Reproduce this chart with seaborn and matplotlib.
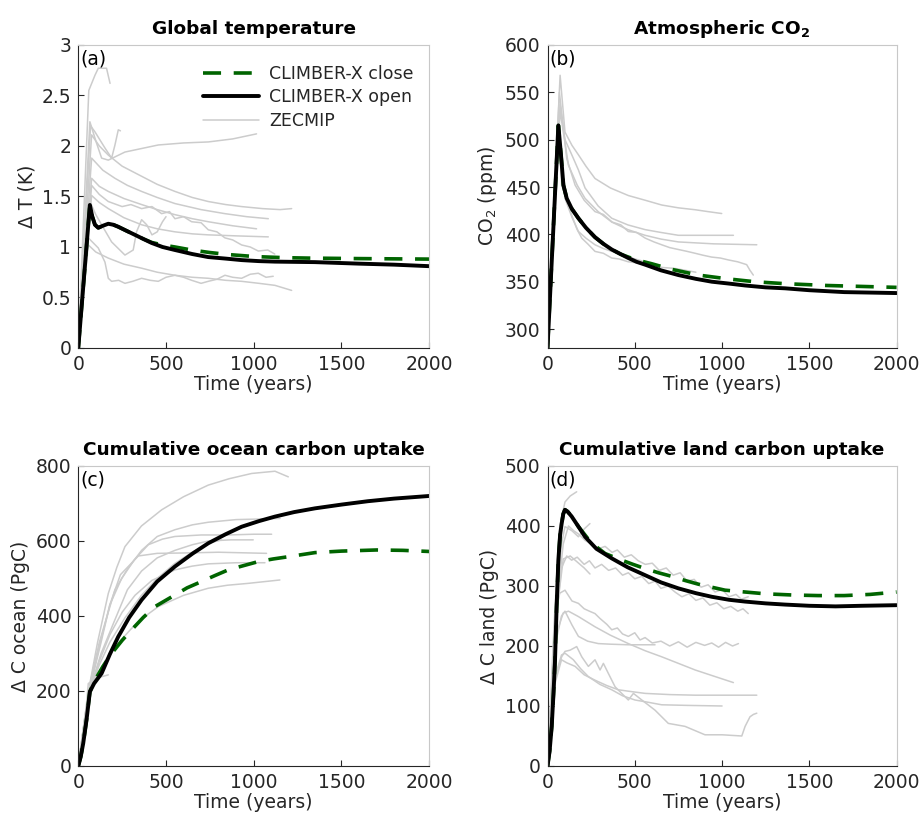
import matplotlib
matplotlib.use("Agg")
import matplotlib.pyplot as plt
import seaborn as sns

sns.set_style("white")
plt.rcParams['font.family'] = ['DejaVu Sans']
plt.rcParams['mathtext.default'] = 'regular'

# ---------------- Panel (a): global temperature ----------------
open_T_t = [0, 66, 80, 95, 114, 140, 171, 200, 228, 275, 323, 370, 418, 480, 551, 650, 741, 840, 931, 1030, 1121, 1349, 1600, 1800, 2000]
open_T = [0, 1.416, 1.30, 1.22, 1.19, 1.21, 1.23, 1.22, 1.20, 1.16, 1.12, 1.08, 1.04, 1.00, 0.97, 0.93, 0.90, 0.885, 0.87, 0.86, 0.855, 0.85, 0.835, 0.825, 0.81]
close_T_t = [0, 66, 80, 95, 114, 140, 171, 200, 228, 275, 323, 370, 418, 480, 551, 646, 750, 855, 1007, 1178, 1311, 1600, 2000]
close_T = [0, 1.416, 1.30, 1.22, 1.19, 1.21, 1.23, 1.22, 1.20, 1.16, 1.12, 1.08, 1.045, 1.02, 1.00, 0.97, 0.945, 0.925, 0.905, 0.894, 0.89, 0.885, 0.88]

zec_T_t = [
    [0, 60, 95, 114, 161, 181],
    [0, 66, 100, 133, 171, 266, 456, 600, 741, 880, 1016],
    [0, 70, 95, 152, 190, 209, 228, 240],
    [0, 76, 120, 171, 250, 361, 450, 551, 650, 741, 840, 931, 1050, 1150, 1216],
    [0, 76, 140, 209, 280, 361, 450, 551, 700, 836, 960, 1083],
    [0, 76, 120, 171, 260, 361, 450, 551, 650, 741, 880, 1016],
    [0, 76, 120, 171, 250, 300, 361, 420, 475, 520, 551, 600, 646, 700, 741, 790, 836, 880, 931, 980, 1026, 1080, 1120],
    [0, 76, 120, 171, 260, 361, 450, 551, 650, 741, 900, 1083],
    [0, 66, 100, 133, 190, 266, 313, 332, 361, 390, 420, 450, 480, 500],
    [0, 57, 80, 114, 152, 171, 190, 230, 266, 310, 361, 410, 456, 500, 551, 600, 646, 700, 741, 790, 836, 880, 931, 980, 1026, 1070, 1111],
    [0, 57, 100, 171, 260, 361, 450, 551, 650, 741, 840, 931, 1030, 1121, 1216],
]
zec_T = [
    [0, 2.55, 2.70, 2.77, 2.77, 2.62],
    [0, 2.24, 2.05, 1.88, 1.86, 1.94, 2.01, 2.03, 2.04, 2.07, 2.12],
    [0, 2.20, 2.14, 1.98, 1.88, 2.01, 2.16, 2.15],
    [0, 2.11, 2.00, 1.91, 1.80, 1.70, 1.62, 1.55, 1.49, 1.45, 1.42, 1.40, 1.38, 1.37, 1.38],
    [0, 1.88, 1.76, 1.68, 1.61, 1.55, 1.49, 1.43, 1.37, 1.33, 1.30, 1.28],
    [0, 1.68, 1.60, 1.55, 1.48, 1.42, 1.37, 1.32, 1.28, 1.25, 1.21, 1.18],
    [0, 1.61, 1.52, 1.45, 1.40, 1.42, 1.38, 1.40, 1.33, 1.35, 1.28, 1.30, 1.25, 1.24, 1.17, 1.15, 1.09, 1.07, 1.02, 1.00, 0.96, 0.97, 0.93],
    [0, 1.51, 1.44, 1.38, 1.29, 1.22, 1.18, 1.15, 1.13, 1.12, 1.11, 1.10],
    [0, 1.45, 1.32, 1.22, 1.05, 0.92, 0.97, 1.15, 1.27, 1.22, 1.12, 1.15, 1.25, 1.30],
    [0, 1.09, 1.05, 0.99, 0.85, 0.69, 0.66, 0.67, 0.64, 0.66, 0.69, 0.67, 0.66, 0.70, 0.72, 0.70, 0.67, 0.64, 0.66, 0.68, 0.72, 0.70, 0.69, 0.73, 0.74, 0.70, 0.71],
    [0, 1.02, 0.95, 0.89, 0.83, 0.79, 0.75, 0.72, 0.70, 0.69, 0.67, 0.66, 0.64, 0.62, 0.57],
]

# ---------------- Panel (b): atmospheric CO2 ----------------
open_C_t = [0, 62, 77, 91, 110, 139, 177, 220, 272, 320, 368, 420, 463, 510, 559, 650, 750, 850, 941, 1040, 1132, 1250, 1361, 1500, 1700, 2000]
open_C = [280, 515, 484, 452, 438, 427, 417, 407, 397, 390, 384, 379, 375, 371, 368, 362, 357, 353, 350, 348, 346, 344, 343, 341, 339, 338]
close_C_t = [0, 62, 77, 91, 110, 139, 177, 220, 272, 320, 368, 420, 463, 510, 596, 712, 864, 1032, 1185, 1351, 1600, 1800, 2000]
close_C = [280, 515, 484, 452, 438, 427, 417, 407, 397, 390, 384, 379, 376, 373, 369, 363, 357, 353, 350, 348, 346, 345, 344]

zec_C_t = [
    [0, 72, 100, 140, 177, 220, 272, 360, 463, 560, 654, 750, 846, 920, 998],
    [0, 72, 100, 139, 177, 215, 290, 368, 460, 559, 650, 750, 900, 1065],
    [0, 72, 120, 170, 215, 290, 368, 460, 559, 650, 750, 950, 1199],
    [0, 68, 110, 158, 210, 272, 320, 370, 420, 463, 510, 560, 610, 654, 700, 750, 800, 846, 890, 940, 990, 1036, 1090, 1141, 1160, 1179],
    [0, 64, 81, 110, 139, 170, 196, 230, 272, 320, 368, 410, 463, 510, 559, 610, 673],
    [0, 66, 100, 140, 177, 220, 272, 320, 368, 420, 482, 540, 596, 660, 730, 790, 850],
]
zec_C = [
    [285, 568, 508, 494, 484, 472, 459, 449, 441, 436, 431, 428, 426, 424, 422],
    [285, 537, 500, 484, 468, 449, 430, 417, 410, 405, 402, 399, 399, 399],
    [285, 530, 473, 452, 438, 424, 413, 405, 399, 395, 392, 390, 389],
    [285, 550, 480, 452, 436, 424, 421, 413, 410, 403, 402, 396, 392, 389, 386, 384, 382, 380, 378, 376, 375, 373, 371, 368, 362, 357],
    [285, 520, 452, 436, 420, 405, 396, 390, 382, 380, 375, 374, 371, 370, 368, 366, 361],
    [285, 500, 438, 418, 403, 396, 389, 385, 382, 380, 375, 372, 366, 365, 364, 362, 360],
]

# ---------------- Panel (c): ocean carbon uptake ----------------
open_O_t = [0, 14, 28, 47, 66, 90, 133, 180, 228, 290, 361, 450, 551, 650, 741, 840, 931, 1030, 1121, 1230, 1349, 1500, 1650, 1800, 2000]
open_O = [0, 25, 60, 123, 198, 220, 247, 298, 345, 396, 443, 492, 532, 566, 594, 618, 638, 653, 665, 677, 687, 697, 706, 713, 720]
close_O_t = [0, 14, 28, 47, 66, 95, 140, 190, 250, 304, 370, 437, 551, 620, 703, 780, 855, 940, 1026, 1110, 1197, 1349, 1500, 1700, 1850, 2000]
close_O = [0, 25, 60, 123, 198, 229, 265, 300, 335, 363, 396, 425, 456, 475, 492, 508, 523, 534, 545, 552, 558, 569, 573, 576, 575, 572]

zec_O_t = [
    [0, 40, 70, 110, 171, 220, 266, 360, 475, 600, 741, 860, 988, 1121, 1197],
    [0, 40, 70, 120, 209, 280, 361, 450, 551, 650, 741, 900, 1150],
    [0, 40, 70, 130, 180, 247, 320, 399, 480, 551, 700, 850, 1000, 1102],
    [0, 40, 70, 130, 200, 280, 361, 450, 551, 650, 741, 870, 997],
    [0, 40, 70, 120, 180, 240, 342, 450, 600, 800, 1073],
    [0, 40, 70, 120, 180, 250, 323, 420, 551, 650, 741, 900, 1064],
    [0, 40, 70, 120, 180, 266, 360, 450, 550, 650, 750, 817],
    [0, 40, 70, 110, 160, 209, 300, 360, 456, 600, 741, 850, 969, 1149],
    [0, 40, 57, 110, 171],
]
zec_O = [
    [0, 140, 230, 330, 460, 530, 585, 640, 683, 718, 749, 766, 780, 786, 771],
    [0, 140, 225, 330, 470, 525, 575, 612, 630, 643, 650, 657, 660],
    [0, 135, 215, 330, 430, 500, 550, 590, 605, 612, 616, 616, 618, 618],
    [0, 135, 210, 300, 380, 470, 520, 555, 575, 590, 600, 603, 603],
    [0, 135, 215, 320, 430, 510, 560, 567, 568, 570, 567],
    [0, 130, 205, 280, 350, 410, 455, 495, 523, 533, 539, 542, 542],
    [0, 130, 205, 270, 330, 395, 455, 500, 540, 570, 595, 603],
    [0, 125, 195, 245, 285, 318, 365, 392, 425, 455, 474, 482, 487, 496],
    [0, 130, 220, 235, 243],
]

# ---------------- Panel (d): land carbon uptake ----------------
open_L_t = [0, 12, 24, 34, 43, 52, 62, 72, 81, 90, 100, 115, 138, 170, 215, 280, 368, 460, 559, 650, 750, 850, 941, 1040, 1132, 1250, 1361, 1500, 1650, 1800, 2000]
open_L = [0, 25, 66, 120, 177, 265, 343, 385, 404, 420, 427, 424, 416, 402, 382, 362, 346, 331, 318, 306, 296, 288, 282, 277, 274, 271, 269, 267, 266, 267, 268]
close_L_t = [0, 12, 24, 34, 43, 52, 62, 72, 81, 90, 100, 115, 138, 177, 250, 330, 425, 490, 559, 636, 712, 790, 864, 940, 1017, 1130, 1246, 1400, 1550, 1700, 1850, 2000]
close_L = [0, 25, 66, 120, 177, 265, 343, 385, 404, 420, 427, 424, 416, 399, 372, 354, 343, 336, 329, 322, 316, 309, 303, 298, 293, 290, 287, 285, 284, 284, 286, 290]

zec_L_t = [
    [0, 40, 70, 100, 130, 167],
    [0, 45, 80, 100, 140, 177, 210, 243],
    [0, 50, 90, 120, 150, 180, 215, 250, 291, 330, 370, 400, 440, 480, 520, 560, 600, 640, 680, 720, 760, 800, 840, 880, 920, 960, 1000, 1040, 1080, 1110, 1150],
    [0, 50, 80, 110, 138, 170, 210, 240, 272, 310, 350, 390, 430, 463, 500, 540, 580, 616, 650, 690, 730, 770, 810, 850, 890, 930, 970, 1010, 1050, 1090, 1120, 1150],
    [0, 50, 90, 130, 170, 210, 243],
    [0, 43, 70, 100, 140, 177, 210, 240, 272, 300, 340, 368, 400, 430, 463, 500, 530, 559, 600, 650, 700, 750, 800, 850, 900, 941, 980, 1020, 1060, 1094],
    [0, 50, 90, 120, 177, 272, 360, 463, 560, 654, 750, 846, 950, 1065],
    [0, 50, 80, 100, 140, 177, 230, 291, 360, 463, 540, 616],
    [0, 45, 81, 100, 129, 167, 196, 234, 272, 301, 320, 349, 387, 425, 463, 492, 540, 616, 692, 788, 902, 1000, 1113, 1132, 1160, 1180, 1199],
    [0, 45, 80, 110, 158, 210, 272, 340, 406, 480, 559, 700, 846, 1000, 1199],
    [0, 45, 80, 100, 148, 190, 234, 300, 368, 430, 501, 580, 654, 800, 1000],
]
zec_L = [
    [0, 250, 400, 440, 450, 457],
    [0, 240, 370, 399, 392, 382, 395, 404],
    [0, 260, 370, 400, 392, 386, 376, 370, 362, 366, 356, 360, 348, 352, 342, 336, 338, 326, 330, 318, 322, 308, 311, 298, 302, 290, 294, 282, 286, 278, 282],
    [0, 250, 330, 350, 343, 348, 336, 342, 330, 336, 326, 330, 318, 322, 312, 316, 304, 308, 296, 300, 290, 282, 287, 276, 280, 268, 272, 262, 266, 258, 262, 254],
    [0, 250, 345, 350, 340, 330, 320],
    [0, 250, 288, 293, 275, 271, 262, 258, 254, 246, 236, 227, 230, 220, 216, 222, 210, 214, 205, 208, 200, 207, 198, 206, 201, 205, 198, 206, 200, 204],
    [0, 220, 255, 258, 249, 232, 218, 204, 192, 182, 171, 160, 150, 139],
    [0, 210, 250, 258, 235, 216, 208, 204, 203, 202, 202, 202],
    [0, 150, 182, 191, 193, 199, 182, 166, 177, 160, 171, 154, 132, 121, 110, 121, 110, 93, 71, 66, 52, 52, 50, 66, 82, 86, 88],
    [0, 140, 177, 172, 166, 152, 143, 134, 127, 124, 121, 119, 118, 118, 118],
    [0, 150, 185, 188, 177, 162, 149, 136, 127, 117, 110, 106, 102, 101, 100],
]

GREY = '#cccccc'
GREEN = '#006400'
DARK = '#262626'

fig = plt.figure(figsize=(9.21, 8.24), dpi=100)
positions = [
    [0.0850, 0.5777, 0.381, 0.3677],
    [0.5945, 0.5777, 0.379, 0.3677],
    [0.0850, 0.0704, 0.381, 0.3641],
    [0.5945, 0.0704, 0.379, 0.3641],
]

panels = [
    dict(zt=zec_T_t, zv=zec_T, ot=open_T_t, ov=open_T, ct=close_T_t, cv=close_T,
         ylim=(0, 3), yticks=[0, 0.5, 1, 1.5, 2, 2.5, 3], yticklabels=['0', '0.5', '1', '1.5', '2', '2.5', '3'],
         ylabel='Δ T (K)', title='Global temperature', tag='(a)'),
    dict(zt=zec_C_t, zv=zec_C, ot=open_C_t, ov=open_C, ct=close_C_t, cv=close_C,
         ylim=(280, 600), yticks=[300, 350, 400, 450, 500, 550, 600], yticklabels=None,
         ylabel='CO$_2$ (ppm)', title=r'Atmospheric CO$_\mathbf{2}$', tag='(b)'),
    dict(zt=zec_O_t, zv=zec_O, ot=open_O_t, ov=open_O, ct=close_O_t, cv=close_O,
         ylim=(0, 800), yticks=[0, 200, 400, 600, 800], yticklabels=None,
         ylabel='Δ C ocean (PgC)', title='Cumulative ocean carbon uptake', tag='(c)'),
    dict(zt=zec_L_t, zv=zec_L, ot=open_L_t, ov=open_L, ct=close_L_t, cv=close_L,
         ylim=(0, 500), yticks=[0, 100, 200, 300, 400, 500], yticklabels=None,
         ylabel='Δ C land (PgC)', title='Cumulative land carbon uptake', tag='(d)'),
]

for i, p in enumerate(panels):
    ax = fig.add_axes(positions[i])
    for k, (tt, vv) in enumerate(zip(p['zt'], p['zv'])):
        sns.lineplot(x=tt, y=vv, ax=ax, color=GREY, linewidth=1.1, sort=False,
                     estimator=None, label='ZECMIP' if k == 0 else None, legend=False)
    sns.lineplot(x=p['ct'], y=p['cv'], ax=ax, color=GREEN, linewidth=2.6, sort=False,
                 estimator=None, legend=False, label='CLIMBER-X close')
    ax.lines[-1].set_dashes([5, 3.5])
    sns.lineplot(x=p['ot'], y=p['ov'], ax=ax, color='black', linewidth=2.8, sort=False,
                 estimator=None, legend=False, label='CLIMBER-X open')
    ax.set_xlim(0, 2000)
    ax.set_ylim(*p['ylim'])
    ax.set_xticks([0, 500, 1000, 1500, 2000])
    ax.set_yticks(p['yticks'])
    if p['yticklabels']:
        ax.set_yticklabels(p['yticklabels'])
    ax.tick_params(bottom=True, left=True, top=False, right=False, direction='in',
                   length=4, width=0.8, colors=DARK, labelsize=13.5,
                   labelcolor=DARK, pad=5)
    for s in ['bottom', 'left']:
        ax.spines[s].set_color(DARK)
        ax.spines[s].set_linewidth(0.8)
    for s in ['top', 'right']:
        ax.spines[s].set_color('#c8c8c8')
        ax.spines[s].set_linewidth(0.8)
    ax.set_xlabel('Time (years)', fontsize=13.5, color=DARK, labelpad=1)
    ax.set_ylabel(p['ylabel'], fontsize=13.5, color=DARK, labelpad=4)
    ax.set_title(p['title'], fontsize=13.3, fontweight='bold', color='black', pad=8)
    ax.text(0.005, 0.985, p['tag'], transform=ax.transAxes, fontsize=13.5,
            ha='left', va='top', color='black')
    if i == 0:
        h, l = ax.get_legend_handles_labels()
        order = [l.index('CLIMBER-X close'), l.index('CLIMBER-X open'), l.index('ZECMIP')]
        leg = ax.legend([h[j] for j in order], [l[j] for j in order], loc='upper right',
                        bbox_to_anchor=(1.0, 0.985), frameon=False, fontsize=12.5,
                        handlelength=3.2, labelspacing=0.3, handletextpad=0.6)
        for t in leg.get_texts():
            t.set_color(DARK)

fig.savefig('out.png', dpi=100)
